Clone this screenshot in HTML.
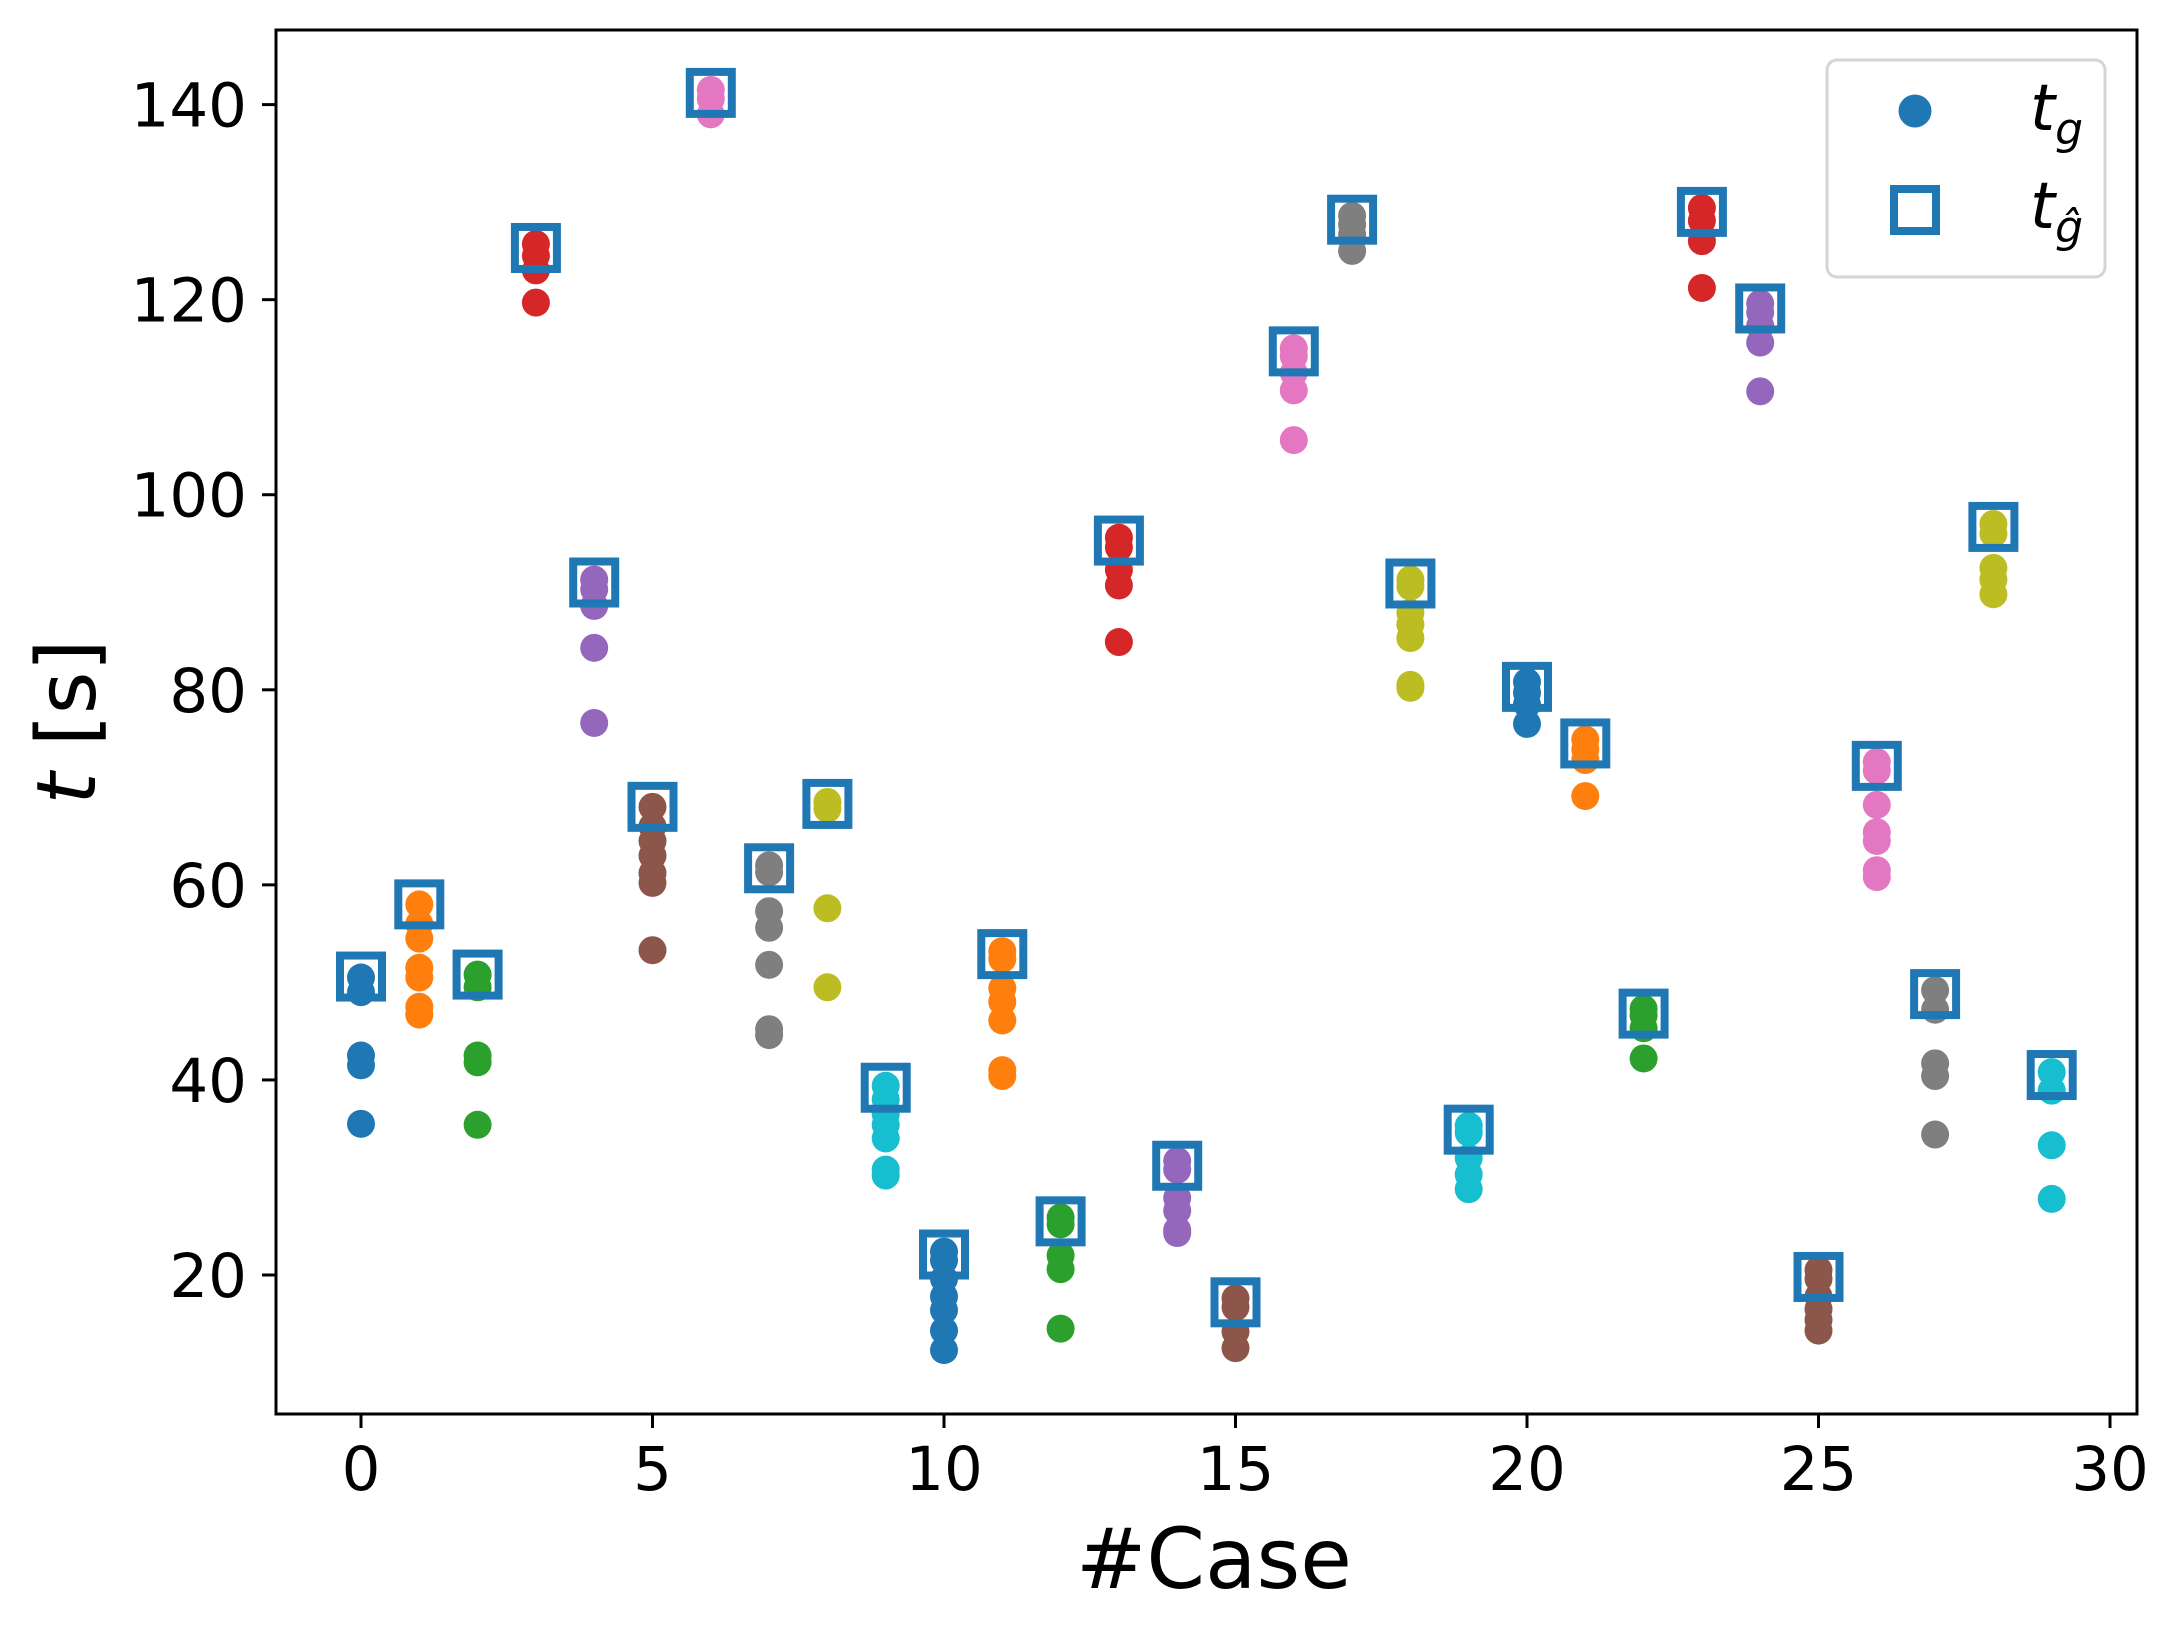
<!DOCTYPE html>
<html><head><meta charset="utf-8"><style>
html,body{margin:0;padding:0;background:#fff;}
svg{display:block;font-family:"DejaVu Sans","Liberation Sans",sans-serif;}
</style></head><body>
<svg id="chart" width="2179" height="1632" viewBox="0 0 2179 1632" xmlns="http://www.w3.org/2000/svg">
<rect width="2179" height="1632" fill="#fff"/>
<g id="marks"></g>
<g id="axes"></g>
<rect x="276" y="30" width="1861" height="1384" fill="none" stroke="#000" stroke-width="3"/>
<text x="1214" y="1588" font-size="84" text-anchor="middle">#Case</text>
<text transform="translate(95,722) rotate(-90)" font-size="82" text-anchor="middle"><tspan font-style="italic">t</tspan> [s]</text>
<g>
<rect x="1827" y="60" width="278" height="217" rx="10" fill="#fff" fill-opacity="0.8" stroke="#d5d5d5" stroke-width="3"/>
<circle cx="1915" cy="111" r="16.5" fill="#1f77b4"/>
<text x="2030" y="130" font-size="64" font-style="italic">t<tspan font-size="44" dy="14">g</tspan></text>
<rect x="1894" y="189" width="42" height="42" fill="none" stroke="#1f77b4" stroke-width="8"/>
<text x="2030" y="228" font-size="64" font-style="italic">t<tspan font-size="44" dy="14">ĝ</tspan></text>
</g>
</svg>
<script>
const cases = [0,1,2,3,4,5,6,7,8,9,10,11,12,13,14,15,16,17,18,19,20,21,22,23,24,25,26,27,28,29];
const tgValues = [
[50.5,49,42.5,41.5,35.5],
[58,56,54.5,51.5,50.5,47.5,46.7],
[50.8,49.5,42.5,41.8,35.4],
[125.7,124.5,123,119.7],
[91.3,90.3,88.6,84.3,76.6],
[68,66,64.5,63,61.2,60.2,53.3],
[141.5,140.6,139],
[62,61.3,57.3,55.6,51.8,45.2,44.6],
[68.5,67.8,57.6,49.5],
[39.4,38,36.5,35.4,34,30.8,30.2],
[22.4,21.5,19.6,17.8,16.4,14.3,12.3],
[53.2,52.4,49.4,48,46.1,41,40.4],
[25.9,25.2,22,20.6,14.5],
[95.6,94.6,92.3,90.7,84.9],
[31.7,30.8,27.9,26.6,24.6,24.3],
[17.6,16.7,14.2,12.5],
[115,114.2,112.5,110.7,105.6],
[128.6,127.7,126.7,125],
[91.3,90.6,87.9,86.7,85.3,80.5,80.2],
[35.3,34.6,32,30.3,28.8],
[80.8,79.7,78.5,76.5],
[74.9,73.9,72.8,69.1],
[47.3,46.6,45.3,42.2],
[129.4,128.1,126,121.2],
[119.6,118.7,117.3,115.6,110.6],
[20.5,19.6,17.8,16.5,15.4,14.3],
[72.6,71.7,68.2,65.4,64.5,61.5,60.8],
[49.2,47.2,41.7,40.4,34.4],
[97,96,92.5,91.3,89.8],
[40.8,38.9,33.3,27.8]];
const tghatValues = [50.6,58,50.8,125.3,91,68,141.2,61.7,68.3,39.2,22.1,52.9,25.5,95.3,31.2,17.2,114.7,128.2,90.9,34.9,80.3,74.5,46.8,129,119.1,19.8,72.2,48.8,96.7,40.5];
const xTicks = [0,5,10,15,20,25,30];
const yTicks = [20,40,60,80,100,120,140];
const palette = ['#1f77b4','#ff7f0e','#2ca02c','#d62728','#9467bd','#8c564b','#e377c2','#7f7f7f','#bcbd22','#17becf'];

const NS='http://www.w3.org/2000/svg';
const xS = v => 361 + v*(2110-361)/30;
const yS = v => 1275 - (v-20)*(1275-104.6)/120;
const marks=document.getElementById('marks');
const axes=document.getElementById('axes');
function mk(tag,attrs,parent){const e=document.createElementNS(NS,tag);for(const k in attrs)e.setAttribute(k,attrs[k]);parent.appendChild(e);return e;}

cases.forEach((c,i)=>{
  const col=palette[c%10];
  tgValues[i].forEach(v=>{
    const d=mk('circle',{cx:xS(c),cy:yS(v),r:14,fill:col},marks);
    
    
  });
});
cases.forEach((c,i)=>{
  const s=mk('rect',{x:xS(c)-21,y:yS(tghatValues[i])-21,width:42,height:42,fill:'none',stroke:'#1f77b4','stroke-width':8},marks);
  
  
});
xTicks.forEach(t=>{
  const l=mk('line',{x1:xS(t),x2:xS(t),y1:1414,y2:1428,stroke:'#000','stroke-width':3},axes);
  
  
  const tx=mk('text',{x:xS(t),y:1490,'font-size':61,'text-anchor':'middle'},axes);
  tx.textContent=t;
  
  
});
yTicks.forEach(t=>{
  const l=mk('line',{x1:262,x2:276,y1:yS(t),y2:yS(t),stroke:'#000','stroke-width':3},axes);
  
  
  const tx=mk('text',{x:247,y:yS(t)+22,'font-size':61,'text-anchor':'end'},axes);
  tx.textContent=t;
  
  
});
</script>
</body></html>
